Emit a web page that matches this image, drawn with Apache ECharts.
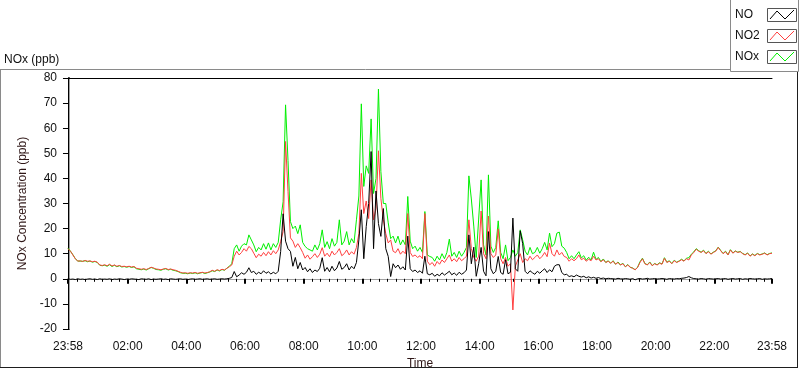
<!DOCTYPE html>
<html>
<head>
<meta charset="utf-8">
<script src="https://cdn.jsdelivr.net/npm/echarts@6/dist/echarts.min.js"></script>
<style>
html,body{margin:0;padding:0;background:#fff;}
#c{width:800px;height:369px;}
</style>
</head>
<body>
<div id="c"></div>
<script>
// Sampling: minutes relative to 00:00, first sample at 23:58 of the previous day, every 5 minutes
const startMinute = -2;
const stepMinutes = 5;

const seriesNames = ['NO', 'NO2', 'NOx'];

// NO (ppb)
const NO = [
 0.0,-0.2,-0.1,-0.3,0.0,-0.2,-0.1,-0.3,-0.1,0.0,
 -0.2,-0.1,-0.3,0.0,-0.2,-0.1,-0.2,0.0,-0.3,-0.1,
 -0.2,0.0,-0.1,-0.3,-0.1,-0.2,0.0,-0.1,-0.2,-0.3,
 0.0,-0.1,-0.2,0.0,-0.3,-0.1,-0.2,-0.1,0.0,-0.2,
 -0.1,-0.3,0.0,-0.1,-0.2,-0.1,0.0,-0.2,-0.1,-0.3,
 -0.1,0.0,-0.2,-0.1,0.0,-0.2,-0.1,0.0,-0.2,-0.1,
 0.0,-0.2,-0.1,0.0,-0.1,0.0,0.2,0.5,2.9,0.8,
 1.5,2.4,1.8,2.6,4.4,2.5,3.0,1.8,2.6,2.0,
 3.2,2.2,2.8,1.9,2.6,2.0,3.0,10.9,25.9,15.0,
 12.0,10.9,5.0,8.5,4.0,6.5,3.5,4.5,2.8,4.0,
 2.5,3.5,2.9,4.2,8.4,3.0,4.5,2.8,5.0,3.2,
 4.3,6.9,3.8,4.5,6.0,3.5,5.0,4.0,6.5,15.5,
 27.5,8.0,20.8,30.0,50.7,12.0,35.0,22.0,16.9,28.0,
 12.0,8.9,0.9,6.0,4.4,5.5,3.8,4.8,3.5,17.0,
 4.0,2.9,3.5,2.5,3.2,2.2,9.0,2.0,1.6,2.2,
 1.0,1.8,1.2,2.4,1.5,2.2,3.0,1.6,2.3,1.4,
 2.6,1.8,2.4,3.5,17.5,6.0,12.6,1.0,6.0,12.5,
 3.0,1.2,18.8,4.0,2.0,3.0,8.9,2.5,1.8,7.6,
 2.0,2.6,24.2,4.0,3.0,19.1,14.0,3.0,2.0,3.2,
 2.4,1.8,3.0,2.2,3.2,4.0,2.5,3.6,2.8,5.0,
 5.6,5.6,2.5,1.6,1.8,0.9,1.2,0.8,1.5,1.0,
 0.7,1.0,0.4,0.8,0.3,0.6,0.2,0.5,0.1,0.3,
 0.0,0.2,0.1,0.0,-0.1,0.2,0.0,-0.1,0.1,0.0,
 -0.2,0.1,-0.4,0.0,0.1,-0.1,0.0,0.2,-0.1,0.0,
 0.1,-0.1,0.0,0.1,0.0,-0.2,0.1,0.0,-0.1,0.1,
 0.0,0.2,0.3,0.5,0.9,0.4,0.1,0.0,-0.1,0.1,
 0.0,-0.2,0.1,0.0,-0.1,0.0,0.1,-0.1,0.0,0.1,
 -0.2,0.0,0.1,-0.1,0.0,0.1,-0.2,0.0,-0.1,0.1,
 0.0,-0.1,0.0,0.1,-0.2,0.0,-0.1,0.0,0.1
];

// NO2 (ppb)
const NO2 = [
 12.0,11.0,9.5,8.0,7.0,7.2,6.9,7.3,7.0,7.1,
 6.8,7.0,6.6,5.5,5.3,5.6,5.2,5.8,5.1,5.5,
 5.0,5.3,4.9,5.0,4.8,5.0,4.7,4.9,4.2,4.0,
 3.8,4.0,3.7,4.1,4.6,4.3,3.9,3.8,3.6,3.9,
 4.1,3.7,3.9,3.6,3.4,3.0,2.6,2.3,2.4,2.2,
 2.4,2.3,2.5,2.2,2.4,2.6,2.3,2.5,2.8,3.4,
 3.0,3.6,3.3,3.8,3.5,4.2,4.8,5.5,9.0,11.0,
 9.5,10.5,12.0,11.0,12.9,12.0,10.2,8.4,9.8,9.0,
 10.5,9.2,10.8,9.5,11.2,10.0,11.5,14.9,18.8,54.7,
 34.8,16.3,15.0,12.5,14.0,12.4,10.5,8.2,9.5,7.8,
 8.8,10.0,8.5,9.8,12.4,9.0,10.2,8.8,11.0,9.5,
 10.5,12.0,9.2,10.0,11.5,9.5,10.8,9.8,12.5,18.0,
 42.0,26.0,31.0,24.0,39.4,23.5,28.0,51.0,32.0,23.5,
 18.0,14.3,15.5,11.0,10.4,12.0,9.8,11.0,10.0,26.0,
 10.5,8.9,9.5,8.5,9.2,8.0,26.0,7.0,5.6,6.5,
 5.0,6.9,5.8,7.5,6.5,8.0,9.5,7.0,8.0,6.8,
 8.5,7.2,8.0,9.0,23.5,12.0,8.5,7.0,9.0,27.0,
 10.0,8.0,25.0,10.0,8.5,9.5,19.9,8.0,6.0,8.5,
 5.0,6.0,-12.4,5.0,7.5,10.0,6.5,8.0,7.2,9.0,
 7.6,8.5,9.5,8.0,9.0,10.5,8.8,14.2,10.0,9.0,
 11.5,9.5,10.5,8.9,8.5,7.0,8.0,7.2,8.0,9.5,
 7.6,8.2,7.0,7.8,7.2,9.0,7.5,8.0,6.8,7.6,
 6.5,7.0,6.2,7.0,5.8,6.5,5.5,6.0,4.8,5.5,
 4.6,4.2,3.6,4.5,6.5,8.0,6.0,5.5,6.5,5.2,
 6.0,5.5,6.2,5.8,8.2,6.5,7.0,6.0,7.2,6.5,
 7.0,7.6,7.0,8.0,7.5,9.5,10.5,11.8,11.0,10.5,
 11.2,10.0,10.8,9.8,10.5,11.0,12.5,11.2,10.0,10.8,
 9.5,11.5,10.2,11.0,10.5,10.8,10.0,9.5,10.2,9.0,
 9.8,9.2,10.0,9.5,9.8,10.2,9.5,10.0,10.2
];

// NOx (ppb)
const NOx = [
 12.2,11.0,9.6,8.0,7.1,7.0,7.0,7.2,6.8,7.1,
 6.6,6.9,6.5,5.4,5.2,5.4,5.0,5.6,4.9,5.4,
 4.8,5.2,4.7,4.9,4.6,4.9,4.5,4.8,4.0,3.8,
 3.6,3.9,3.5,4.0,4.5,4.2,3.7,3.6,3.4,3.8,
 4.0,3.5,3.8,3.4,3.2,2.9,2.4,2.2,2.2,2.0,
 2.3,2.1,2.4,2.0,2.3,2.5,2.1,2.4,2.7,3.2,
 2.9,3.5,3.1,3.7,3.4,4.2,5.0,6.0,12.0,13.5,
 11.0,13.0,14.0,13.5,17.5,15.5,13.5,10.8,12.5,11.5,
 14.0,11.8,14.3,11.5,14.0,12.5,14.5,23.5,30.7,69.3,
 47.1,22.8,20.0,21.0,18.0,21.5,14.5,12.9,12.0,11.5,
 11.0,13.5,11.5,14.0,19.5,12.5,14.8,12.0,16.0,13.0,
 14.5,23.5,13.5,15.0,18.8,13.5,16.0,14.3,23.5,33.0,
 69.7,36.8,45.0,42.0,63.7,34.0,40.0,75.6,42.7,30.0,
 30.0,22.3,16.0,17.0,14.3,17.0,13.5,15.5,13.5,32.8,
 15.0,12.0,13.0,11.0,12.5,10.5,26.8,9.5,8.9,8.5,
 7.0,9.0,7.5,10.0,8.0,10.5,15.8,9.0,10.5,8.5,
 11.0,9.0,10.5,12.5,41.0,31.8,21.0,8.5,23.8,39.4,
 13.5,9.5,41.4,13.0,10.5,12.5,23.1,10.5,8.0,13.5,
 7.2,8.5,11.5,9.0,10.5,19.5,15.5,11.0,9.5,12.5,
 10.0,10.5,12.5,10.2,12.0,14.5,11.5,18.2,12.8,14.0,
 18.2,18.6,13.0,12.2,10.5,8.0,9.2,8.0,9.5,10.8,
 8.3,9.2,7.4,8.6,7.5,10.6,7.7,8.5,6.9,7.9,
 6.5,7.2,6.2,7.2,5.8,6.7,5.5,6.2,4.8,5.7,
 4.6,4.3,3.6,4.6,6.8,8.2,6.1,5.6,6.7,5.3,
 6.1,5.6,6.4,5.9,8.4,6.6,7.2,6.1,7.4,6.6,
 7.1,7.8,7.1,8.2,8.4,9.8,10.7,12.0,11.2,10.6,
 11.4,10.1,11.0,9.9,10.6,11.2,12.6,11.3,10.1,11.0,
 9.6,11.6,10.3,11.1,10.6,10.9,10.1,9.6,10.3,9.1,
 9.9,9.3,10.1,9.6,9.9,10.3,9.6,10.1,10.3
];

// X axis tick labels (minutes relative to 00:00)
const tickMinutes = [-2, 120, 240, 360, 480, 600, 720, 840, 960, 1080, 1200, 1320, 1438];
const tickLabels  = ['23:58','02:00','04:00','06:00','08:00','10:00','12:00','14:00','16:00','18:00','20:00','22:00','23:58'];

// Y axis
const yMin = -20, yMax = 80, yStep = 10;

// ---- build ----
function toPairs(vals){
  return vals.map((v, i) => [startMinute + i * stepMinutes, v]);
}
const minorTicks = [];
for (let k = 0; k < 12; k++) {
  for (let j = 1; j <= 6; j++) minorTicks.push(k * 120 + j * 120 / 7);
}

const FONT = '"Liberation Sans", Arial, sans-serif';
const colors = {NO: '#000000', NO2: '#ff3f3f', NOx: '#00f000'};
const valuesByName = {NO: NO, NO2: NO2, NOx: NOx};
const zByName = {NO: 5, NO2: 4, NOx: 3};

const chart = echarts.init(document.getElementById('c'), null, {renderer: 'canvas'});

const legendGraphics = [];
legendGraphics.push({type:'rect', shape:{x:730.5, y:-0.5, width:68, height:72}, style:{fill:'#fff', stroke:'#8a8a8a', lineWidth:1}, z:10});
seriesNames.forEach((n, k) => {
  const by = 8 + k * 21;
  legendGraphics.push({type:'text', x:735, y:by + 6.5, style:{text:n, font:'12px ' + FONT, fill:'#111', verticalAlign:'middle'}, z:11});
  legendGraphics.push({type:'rect', shape:{x:767.5, y:by + 0.5, width:29, height:13}, style:{fill:'#fff', stroke:'#555', lineWidth:1}, z:11});
  legendGraphics.push({type:'polyline', shape:{points:[[770, by + 11], [777, by + 3], [785, by + 11], [794, by + 2]]}, style:{stroke:colors[n], lineWidth:1, fill:null}, z:12});
});

const option = {
  animation: false,
  backgroundColor: '#fff',
  grid: {left: 68, right: 28, top: 78, bottom: 40, containLabel: false, outerBoundsMode: 'none'},
  xAxis: [
    {
      type: 'value', min: -2, max: 1438, position: 'bottom',
      axisLine: {show: true, lineStyle: {color: '#a0a0a0', width: 1}},
      axisTick: {show: true, customValues: tickMinutes, length: 5, lineStyle: {color: '#000', width: 2}},
      axisLabel: {
        show: true, customValues: tickMinutes, margin: 12, color: '#111', fontSize: 12, fontFamily: FONT,
        formatter: function (v) {
          for (let i = 0; i < tickMinutes.length; i++) if (Math.abs(tickMinutes[i] - v) < 0.01) return tickLabels[i];
          return '';
        }
      },
      splitLine: {show: false},
      name: 'Time', nameLocation: 'middle', nameGap: 28,
      nameTextStyle: {color: '#2e1616', fontSize: 12, fontFamily: FONT}
    },
    {
      type: 'value', min: -2, max: 1438, position: 'bottom',
      axisLine: {show: false},
      axisTick: {show: true, customValues: minorTicks, length: 3, lineStyle: {color: '#000', width: 1}},
      axisLabel: {show: false},
      splitLine: {show: false}
    },
    {
      type: 'value', min: -2, max: 1438, position: 'top',
      axisLine: {show: true, lineStyle: {color: '#000', width: 1}},
      axisTick: {show: false}, axisLabel: {show: false}, splitLine: {show: false}
    }
  ],
  yAxis: [
    {
      type: 'value', min: yMin, max: yMax, interval: yStep, position: 'left',
      axisLine: {show: true, lineStyle: {color: '#000', width: 2}},
      axisTick: {show: true, length: 6, lineStyle: {color: '#000', width: 1}},
      axisLabel: {margin: 11, color: '#111', fontSize: 12, fontFamily: FONT},
      splitLine: {show: false},
      name: 'NOx Concentration (ppb)', nameLocation: 'middle', nameGap: 29,
      nameTextStyle: {color: '#2e1616', fontSize: 12, fontFamily: FONT}
    },
    {
      type: 'value', min: yMin, max: yMax, position: 'right',
      axisLine: {show: true, lineStyle: {color: '#a0a0a0', width: 1}},
      axisTick: {show: false}, axisLabel: {show: false}, splitLine: {show: false}
    }
  ],
  series: seriesNames.map(n => ({
    name: n, type: 'line', xAxisIndex: 0, yAxisIndex: 0,
    data: toPairs(valuesByName[n]),
    showSymbol: false, symbol: 'none',
    lineStyle: {color: colors[n], width: 1},
    itemStyle: {color: colors[n]},
    z: zByName[n]
  })),
  graphic: [
    {type:'line', shape:{x1:0, y1:69.5, x2:731, y2:69.5}, style:{stroke:'#8a8a8a', lineWidth:1}},
    {type:'line', shape:{x1:0.5, y1:69, x2:0.5, y2:368}, style:{stroke:'#8a8a8a', lineWidth:1}},
    {type:'line', shape:{x1:0, y1:367.5, x2:798, y2:367.5}, style:{stroke:'#1e1e1e', lineWidth:1}},
    {type:'line', shape:{x1:797.5, y1:70, x2:797.5, y2:368}, style:{stroke:'#1e1e1e', lineWidth:1}},
    {type:'text', x:4, y:60, style:{text:'NOx (ppb)', font:'12px ' + FONT, fill:'#111', verticalAlign:'middle'}}
  ].concat(legendGraphics)
};
chart.setOption(option);
</script>
</body>
</html>
